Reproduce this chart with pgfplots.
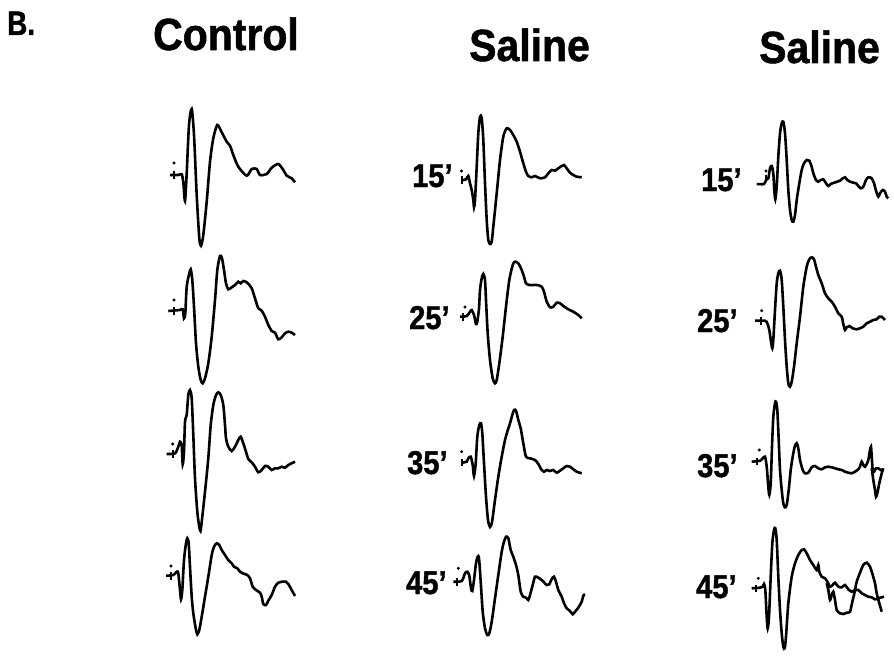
\documentclass[border=0pt]{standalone}
\usepackage{fontspec}
\setmainfont{Liberation Sans}
\usepackage{pgfplots}
\pgfplotsset{compat=1.18}

\pgfplotsset{
  trace/.style={black, line width=2.6bp, smooth, tension=0.45, mark=none},
  stim/.style={black, line width=2.2bp, mark=none},
  stimdot/.style={only marks, mark=*, mark size=1.3bp, black},
}
\newcommand{\coltitle}[3]{\node[anchor=base west, inner sep=0pt, font=\fontsize{45bp}{45bp}\selectfont\bfseries\addfontfeature{FakeStretch=0.91,FakeBold=1.2}] at (axis cs:#1,#2) {#3};}
\newcommand{\timelabel}[3]{\node[anchor=base west, inner sep=0pt, font=\fontsize{33bp}{33bp}\selectfont\bfseries\addfontfeature{FakeStretch=0.88,FakeBold=1.2}] at (axis cs:#1,#2) {#3};}

\begin{document}
\begin{tikzpicture}
\begin{axis}[
  width=894bp, height=658bp, scale only axis,
  xmin=0, xmax=894, ymin=0, ymax=658, y dir=reverse,
  hide axis, clip=false,
]
\path (rel axis cs:0,0) rectangle (rel axis cs:1,1);

% ---- headings ----
\node[anchor=base west, inner sep=0pt, font=\fontsize{34bp}{34bp}\selectfont\bfseries\addfontfeature{FakeStretch=0.82,FakeBold=1.2}] at (axis cs:7,35) {B.};
\coltitle{153}{50}{Control}
\coltitle{469}{61}{Saline}
\coltitle{759}{63}{Saline}

% ---- time labels ----
\timelabel{412}{187}{15’}
\timelabel{409}{329}{25’}
\timelabel{407}{474}{35’}
\timelabel{406}{594}{45’}
\timelabel{701}{191}{15’}
\timelabel{697}{332}{25’}
\timelabel{697}{477}{35’}
\timelabel{696}{598}{45’}

% ================= Control column =================
\addplot[trace] coordinates {(170,175) (178.3,175) (181.7,174.3) (183.3,182.3) (185,201) (186.7,173.3) (189,125) (191.7,109) (194,135) (196.7,195) (199.3,238.3) (201,245.7) (203.3,235) (206.7,201.7) (210,161.7) (213.3,138.3) (217.3,125) (221.7,132.3) (226.7,141.7) (230,145.7) (233.3,155) (238.3,166.7) (246.7,175.7) (251.7,169) (256.7,169) (260,175) (266.7,174) (271.7,167.7) (278.3,164) (283.3,170) (286.7,175.7) (291.7,178.3) (295,182.3)};
\addplot[stim] coordinates {(174,171) (174,179)};
\addplot[stimdot] coordinates {(174,163)};

\addplot[trace] coordinates {(168.3,311) (180,310) (182.7,309.3) (184,318.3) (185.3,313.3) (186.7,286.7) (189.3,273.3) (190.7,269.3) (192.3,280) (194,306.7) (196,343.3) (198.3,366.7) (200.7,380) (202.7,383.3) (205,378.3) (208.3,363.3) (211.7,336.7) (215,300) (217.3,270) (220,256) (222,258.3) (224,270) (226,283.3) (228.3,289.3) (231.7,287.3) (235,285) (238.3,281.7) (240.7,283.3) (243.3,281) (247.3,282.7) (251.7,288.3) (255,298.3) (258.3,308.3) (261.7,310.7) (265,316.7) (268.3,325) (271.7,331) (275,332.7) (278.3,339.3) (281.7,337.3) (285,333.3) (288.3,331.7) (291.7,332.7) (295,335)};
\addplot[stim] coordinates {(174,307) (174,315)};
\addplot[stimdot] coordinates {(174,300)};

\addplot[trace] coordinates {(166.7,454) (175,453.3) (178.3,446.7) (180,441.7) (181.7,445) (182.7,464.3) (184,451.7) (185,421.7) (186.7,415) (188.3,395) (190,390) (191.7,398.3) (193.3,435) (195,478.3) (197.3,511.7) (199.3,527) (200.5,531) (201.7,522) (205,491.7) (208.3,458.3) (210.7,425) (213.3,405) (216,395) (218.3,392.3) (220.7,395) (223.3,405) (225,425) (226,438.3) (228.3,446.7) (231.7,451) (235,446.7) (238.3,440) (240.7,436.7) (243.3,443.3) (246,451.7) (248.3,459) (251.7,462.3) (255,466.7) (258.3,472.3) (261.7,470) (265,466) (268.3,466.7) (271.7,470) (275,468.3) (278.3,468.3) (281.7,466.7) (285,467.7) (288.3,465) (291.7,463.3) (295,461.7)};
\addplot[stim] coordinates {(172.7,450) (172.7,458)};
\addplot[stimdot] coordinates {(172.7,444)};

\addplot[trace] coordinates {(166,575.7) (173.3,575) (176.7,571.7) (178.3,573.3) (180,590) (181,599.3) (182.3,590) (184,560) (186,543.3) (187.3,538.3) (188.7,543.3) (190,566.7) (191.7,596.7) (193.3,613.3) (195.7,628.3) (197.3,634.3) (199.3,630) (201.7,616.7) (205,596.7) (208.3,576.7) (211.7,555) (214,546.7) (216.7,543.3) (219.3,545) (221.7,550) (225,555) (228.3,560) (231.7,563.3) (234,566.7) (237.3,568.3) (240,571.7) (242.7,573.3) (247.3,575) (250,578.3) (252.7,586.7) (256,590) (260,592.7) (261.7,596.7) (263.3,604) (266,605) (268.3,600.7) (271.7,595) (275,586.7) (278.3,582.7) (281.7,581.7) (286,581.7) (288.3,584) (291.7,590) (295,596)};
\addplot[stim] coordinates {(171,572) (171,580)};
\addplot[stimdot] coordinates {(171,566)};

% ================= Saline column 1 =================
\addplot[trace] coordinates {(462.7,180) (466,179.3) (468.3,176) (470,183.3) (471.7,190) (473.3,200) (474,207.3) (475,200) (476.7,166.7) (478.3,133.3) (480,116.7) (481.7,118.3) (483.3,140) (485,183.3) (486.7,220) (488.3,240) (490,244) (491.7,241.7) (493.3,226.7) (496.7,193.3) (500,160) (503.3,136.7) (506.7,128.3) (510,130) (513.3,135) (516.7,141.7) (520,151.7) (523.3,163.3) (526,171.7) (528.3,176) (531.7,177.3) (535,176) (540,178.3) (545,177.3) (548.3,173.3) (551.7,170) (555,170.7) (558.3,168.3) (561.7,166) (564,165) (566.7,168.3) (570,172.7) (573.3,175) (576.7,176.7) (581.7,177.3)};
\addplot[stim] coordinates {(462,176) (462,184)};
\addplot[stimdot] coordinates {(461.5,171)};

\addplot[trace] coordinates {(460,316.7) (466.7,316) (470,311.7) (471.7,310) (474,315) (476,324) (477.3,321.7) (479,308.3) (480,290) (481.7,278.3) (483.3,274) (485,280) (486,300) (487.7,333.3) (490,360) (492.7,378.3) (495,383.3) (496.7,380) (499.3,363.3) (502.7,336.7) (506,306.7) (509.3,280) (512.7,265) (515,261.7) (518.3,263.3) (521.7,270) (524,276.7) (526,283.3) (529.3,285) (533.3,285) (537.3,285) (541.7,286.7) (544,291.7) (546.7,301.7) (550,307.3) (553.3,306.7) (556.7,302.7) (560,303.3) (563.3,306) (568.3,309.3) (573.3,311.7) (578.3,315) (581.7,318.3)};
\addplot[stim] coordinates {(463.3,313) (463.3,321)};
\addplot[stimdot] coordinates {(465,307)};

\addplot[trace] coordinates {(461.7,462.7) (466.7,461.7) (468.3,458.3) (470.7,456.7) (472.7,465) (474,476) (475.7,463.3) (477.3,436.7) (479.3,425) (481,423.3) (482.3,433.3) (484,463.3) (486,496.7) (488,520) (490,527) (492,522) (495,500) (498.3,476.7) (501.7,456.7) (505,440) (507.3,431.7) (510,423.3) (512.3,415) (514,410) (516,410.7) (518.3,420) (520.7,428.3) (523.3,443.3) (526,456.7) (530,458.3) (535,460) (538.3,464) (541.7,470) (544,471.7) (546.7,470) (550,471) (553.3,470) (556.7,472.7) (560,470.7) (563.3,468.3) (566.7,466) (570,466.7) (573.3,469.3) (576.7,471.7) (581.7,473.3)};
\addplot[stim] coordinates {(462,459) (462,466)};
\addplot[stimdot] coordinates {(461.7,451.7)};

\addplot[trace] coordinates {(453.3,581.7) (461.7,581) (465,573.3) (467.3,571.7) (469.3,575.7) (471,588.3) (472.3,591) (474,580) (476,563.3) (477.7,556.7) (479,558.3) (480.7,581.7) (482.7,611.7) (485,628.3) (487.3,635) (489.3,633.3) (491.7,621.7) (495,598.3) (498.3,575) (501.7,551.7) (504,541.7) (506,536.7) (508.3,538.3) (510.7,550) (513.3,556.7) (516,565) (518.3,575) (520.7,591.7) (523.3,596.7) (526,597.7) (528.3,600) (530,595) (532.7,585) (535,576.7) (538.3,577.7) (541.7,580) (544,582.3) (546.7,585) (549.3,584.3) (551.7,579) (554,576.7) (556,581.7) (558.3,590) (561.7,596.7) (564,603.3) (566.7,608.3) (570,611) (572.7,614.3) (575,611.7) (578.3,607.7) (581.7,601.7) (583.3,595.7) (585,594.3)};
\addplot[stim] coordinates {(457.3,578) (457.3,586)};
\addplot[stimdot] coordinates {(458.3,568.3)};

% ================= Saline column 2 =================
\addplot[trace] coordinates {(756.7,184) (764,184) (766,180) (768.3,178.3) (770,168.3) (771.7,166) (773.3,173.3) (774.3,190) (775.3,199.3) (776.7,186.7) (778.3,156.7) (780,133.3) (781.7,123.3) (783.3,121.7) (785,133.3) (786.7,160) (788.3,190) (790,210) (791.7,220) (793.3,221.7) (795,215) (796.7,200) (799.3,183.3) (801.7,170) (804,163.3) (806.7,160) (809.3,160.7) (811.7,166.7) (813.3,173.3) (816,180) (818.3,181.7) (820.7,180) (823.3,179.3) (826,183.3) (828.3,186) (830.7,184) (834,182.7) (837.3,181.7) (840,180.7) (842.7,178.3) (845,177.3) (847.3,180) (850,181.7) (853.3,182.7) (856,183.3) (858.3,186) (860.7,188.3) (863.3,186.7) (866,180) (868.3,177.3) (871.7,178.3) (874,183.3) (876,190.7) (878.3,196.7) (880,193.3) (882.7,190) (885,191.7) (886.7,196.7) (888.3,198.3)};
\addplot[stim] coordinates {(766,175) (766,182)};
\addplot[stimdot] coordinates {(766,171)};

\addplot[trace] coordinates {(755,320.7) (765,320.7) (767.3,323.3) (769.3,330) (771,341.7) (772.3,348.3) (773.3,340) (775,310) (776.7,283.3) (778.3,273.3) (780,270.7) (781.7,280) (783.3,306.7) (785,340) (786.7,366.7) (788.3,383.3) (790,386.7) (791.7,381.7) (794,366.7) (796.7,343.3) (800,316.7) (803.3,286.7) (806.7,266.7) (809.3,259.3) (811.7,257.3) (814,259.3) (816,266.7) (818.3,275) (821.7,283.3) (825,293.3) (828.3,298.3) (831.7,301.7) (835,306.7) (838.3,313.3) (841.7,316.7) (843.3,324) (845,330) (846.7,327.3) (849.3,326) (852.7,328.3) (856.7,329.3) (860,328.3) (863.3,326.7) (866.7,323.3) (870,321.7) (873.3,320) (876.7,319.3) (879.3,316.7) (881.7,316.7) (885,320)};
\addplot[stim] coordinates {(760.7,317) (760.7,325)};
\addplot[stimdot] coordinates {(761.7,310.7)};

\addplot[trace] coordinates {(751.7,461.7) (760,460.7) (762.7,458.3) (765,456.7) (766.7,466.7) (768.3,486.7) (769.3,495) (770.7,483.3) (772,446.7) (773.3,416.7) (775,403.3) (776,401.7) (777.3,410) (778.7,440) (780,470) (781.7,490) (783.3,503.3) (785,507.3) (786.7,505) (788.7,490) (790.7,470) (792.7,456.7) (794.7,446.7) (796.7,443.3) (798.3,448.3) (800,460) (802.7,470) (805,473.3) (808.3,472.7) (811.7,467.3) (815,466) (818.3,468.3) (821.7,469.3) (825,467.3) (828.3,466.7) (831.7,467.3) (835,468.3) (838.3,469.3) (841.7,470) (845,471.7) (848.3,472.7) (851.7,473.3) (855,471.7) (858.3,469.3) (860,466.7) (861.7,461.7) (863.3,465) (865,466.7) (866.7,464) (868.3,460) (870,450) (871,446.7) (871.7,456.7) (872.7,470) (874,471.7) (876,468.3) (878.3,468.3) (880.7,470) (883.3,469.3)};
\addplot[trace] coordinates {(871.7,468.3) (873.3,480) (875,490) (876,496.7) (877.3,493.3) (879.3,483.3) (881.7,473.3) (883.3,468.3)};
\addplot[stim] coordinates {(756.7,458) (756.7,465)};
\addplot[stimdot] coordinates {(759.3,450)};

\addplot[trace] coordinates {(751.7,588.3) (760,587.7) (762.7,586.7) (764,584) (765.3,590) (766.7,616.7) (767.7,628.3) (769,616.7) (770.7,576.7) (772.3,543.3) (774,530) (775.3,528.3) (776.7,540) (778.3,576.7) (780,610) (781.7,633.3) (783.3,646.7) (784.7,648.3) (786,636.7) (788.3,603.3) (791.7,576.7) (795,563.3) (798.3,555) (801.7,550) (804,549.3) (806.7,553.3) (810,560) (813.3,565) (816.7,570) (818.3,565) (819.3,571.7) (821.7,576.7) (825,578.3) (827.3,581.7) (830,586.7) (832.7,585) (835,582.7) (838.3,586.7) (841.7,587.3) (845,585) (848.3,589.3) (851.7,591.7) (855,590) (858.3,590) (861.7,593.3) (865,595) (868.3,596.7) (871.7,597.3) (875,599.3) (878.3,598.3) (881.7,597.3) (884,596.7)};
\addplot[trace] coordinates {(826.7,583.3) (828.3,590) (830,600) (831.7,595) (833.3,591.7) (835,600) (836.7,610) (840,613.3) (843.3,614) (846.7,612.7) (850,611.7) (852.7,600) (854,595) (855,590) (856.7,581.7) (860,572.7) (863.3,565) (866.7,562.7) (870,566.7) (872.7,575) (875,583.3) (876.7,593.3) (879.3,603.3) (881.7,611.7)};
\addplot[stim] coordinates {(755.7,585) (755.7,592)};
\addplot[stimdot] coordinates {(758.3,578.3)};
\end{axis}
\end{tikzpicture}
\end{document}
